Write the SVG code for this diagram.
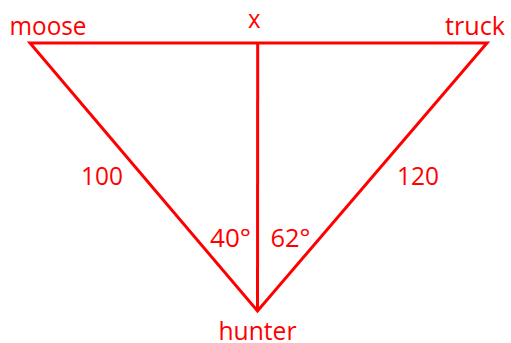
<svg xmlns="http://www.w3.org/2000/svg" width="511" height="343" viewBox="0 0 511 343">
<style>
.edge{stroke:#ff0000;stroke-width:3;fill:none;stroke-linejoin:miter;stroke-linecap:butt}
.lbl{font-family:"Open Sans","Liberation Sans",Arial,sans-serif;fill:#ff0000;font-size:26px}
</style>
<rect width="511" height="343" fill="#ffffff"/>
<g id="connectors">
<polygon class="edge" points="30,43 487,43 257.5,311"/>
<line class="edge" x1="257.7" y1="43" x2="257.5" y2="311"/>
</g>
<g id="moose"><text class="lbl" x="9.5" y="35" textLength="77" lengthAdjust="spacingAndGlyphs">moose</text></g>
<g id="x"><text class="lbl" x="248" y="27.5" textLength="12.5" lengthAdjust="spacingAndGlyphs">x</text></g>
<g id="truck"><text class="lbl" x="445" y="35" textLength="60" lengthAdjust="spacingAndGlyphs">truck</text></g>
<g id="hunter"><text class="lbl" x="218.5" y="340" textLength="78" lengthAdjust="spacingAndGlyphs">hunter</text></g>
<g id="side100"><text class="lbl" x="81" y="185" textLength="42" lengthAdjust="spacingAndGlyphs">100</text></g>
<g id="side120"><text class="lbl" x="397" y="185" textLength="42" lengthAdjust="spacingAndGlyphs">120</text></g>
<g id="angle40"><text class="lbl" x="210" y="246.5" textLength="41" lengthAdjust="spacingAndGlyphs">40°</text></g>
<g id="angle62"><text class="lbl" x="270.5" y="246.5" textLength="40" lengthAdjust="spacingAndGlyphs">62°</text></g>
</svg>
